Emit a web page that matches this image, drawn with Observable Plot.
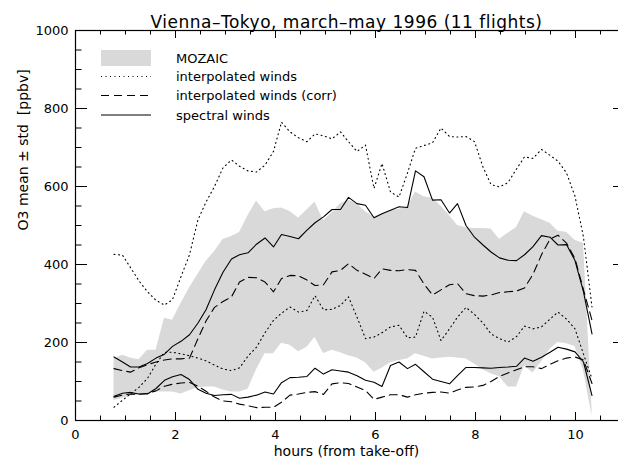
<!DOCTYPE html>
<html>
<head>
<meta charset="utf-8">
<script src="https://cdn.jsdelivr.net/npm/d3@7"></script>
<script src="https://cdn.jsdelivr.net/npm/@observablehq/plot@0.6"></script>
<style>
  html, body { margin: 0; padding: 0; background: white; overflow: hidden; }
</style>
</head>
<body>
<div id="chart"></div>
<script>
const title = "Vienna–Tokyo, march–may 1996 (11 flights)";
const xLabel = "hours (from take-off)";
const yLabel = "O3 mean ± std\u00a0\u00a0[ppbv]";
const legendLabels = ["MOZAIC", "interpolated winds", "interpolated winds (corr)", "spectral winds"];

const xTickLabels = [0, 2, 4, 6, 8, 10];
const xMinorTicks = [0.5,1,1.5,2.5,3,3.5,4.5,5,5.5,6.5,7,7.5,8.5,9,9.5,10.5];
const yTickLabels = [0, 200, 400, 600, 800, 1000];
const yMinorTicks = [50,100,150,250,300,350,450,500,550,650,700,750,850,900,950];

const hours = [0.77,0.94,1.10,1.27,1.44,1.61,1.78,1.94,2.11,2.28,2.45,2.61,2.78,2.95,3.12,3.28,3.45,3.62,3.79,3.96,4.12,4.29,4.46,4.63,4.79,4.96,5.13,5.30,5.46,5.63,5.80,5.97,6.13,6.30,6.47,6.64,6.80,6.97,7.14,7.31,7.48,7.64,7.81,7.98,8.15,8.31,8.48,8.65,8.82,8.98,9.15,9.32,9.49,9.65,9.82,9.99,10.16,10.33];

const mozaicLow = [51,57,62,66,70,73,73,73,68,76, 84,86,86,78,73,73,80,130,171,171, 198,193,176,188,213,172,180,174,166,160, 148,124,134,148,154,158,171,165,158,160, 162,160,158,145,130,120,112,86,86,140, 122,150,183,200,197,190,128,12];
const mozaicHigh = [158,167,160,156,180,180,262,257,300,340, 375,408,433,464,472,482,525,563,535,543, 545,536,519,540,560,512,533,556,565,556, 535,522,530,539,541,548,586,574,570,550, 525,500,494,492,492,491,465,480,495,535, 524,515,506,485,483,462,454,30];

const interpHigh = [426,424,392,358,330,308,296,310,369,425, 515,560,600,648,668,652,640,637,655,690, 765,740,725,715,735,730,722,740,715,690, 706,595,659,586,573,635,698,705,712,750, 728,727,728,715,650,605,599,610,645,676, 672,695,680,665,635,575,470,291];
const interpLow = [34,52,68,85,108,145,175,175,171,166, 160,153,142,132,128,135,165,188,225,257, 275,291,278,282,320,284,285,295,317,265, 210,214,225,240,244,212,214,280,265,205, 235,265,290,272,250,222,210,201,215,242, 235,240,260,278,260,235,170,107];

const corrHigh = [133,128,124,135,143,150,155,158,158,160, 210,255,290,305,317,355,367,366,355,330, 364,372,371,360,346,348,381,385,402,385, 375,364,389,385,384,387,385,350,322,335, 348,351,325,320,319,322,328,330,332,340, 375,425,465,475,455,415,335,257];
const corrLow = [60,65,68,67,70,76,88,93,96,98, 88,75,60,50,48,42,38,33,34,34, 47,65,68,72,74,67,94,97,95,86, 77,54,60,66,66,60,66,70,72,73, 70,78,85,86,90,100,113,122,130,138, 138,133,144,153,160,163,155,95];

const spectralHigh = [163,150,137,137,146,160,170,190,203,220, 250,284,335,380,414,425,430,452,468,445, 477,472,466,488,507,522,541,541,572,556, 552,520,530,539,548,546,640,625,565,566, 532,556,500,470,450,432,417,411,410,425, 446,474,470,450,451,410,330,222];
const spectralLow = [62,70,72,68,68,82,103,112,118,105, 80,70,64,66,67,57,60,65,73,68, 97,110,111,113,134,119,130,127,124,115, 103,98,87,141,150,133,144,125,106,100, 94,115,136,136,135,134,136,137,139,160, 152,162,175,188,183,176,150,64];

const rows = hours.map((h, i) => ({
  h,
  mLo: mozaicLow[i], mHi: mozaicHigh[i],
  iHi: interpHigh[i], iLo: interpLow[i],
  cHi: corrHigh[i], cLo: corrLow[i],
  sHi: spectralHigh[i], sLo: spectralLow[i]
}));

const W = 618, H = 464;
// the plot box runs to x = 11 h, just past the right edge of the picture
const mL = 75, mR = -7, mT = 30, mB = 44;
const fw = W - mL - mR, fh = H - mT - mB;

const DOT = "1,3.5";
const DASH = "8,5";
const LW = 1.1;

const lineOpts = (y, dash) => ({x: "h", y, stroke: "black", strokeWidth: LW, strokeDasharray: dash});

const chart = Plot.plot({
  width: W, height: H,
  marginLeft: mL, marginRight: mR, marginTop: mT, marginBottom: mB,
  style: "font-family: 'DejaVu Sans'; font-size: 13px; background: white; color: black; overflow: hidden;",
  x: {domain: [0, 11]},
  y: {domain: [0, 1000]},
  marks: [
    Plot.areaY(rows, {x: "h", y1: "mLo", y2: "mHi", fill: "#d9d9d9"}),
    Plot.line(rows, lineOpts("iHi", DOT)),
    Plot.line(rows, lineOpts("iLo", DOT)),
    Plot.line(rows, lineOpts("cHi", DASH)),
    Plot.line(rows, lineOpts("cLo", DASH)),
    Plot.line(rows, lineOpts("sHi", null)),
    Plot.line(rows, lineOpts("sLo", null)),
    Plot.frame({stroke: "black", strokeWidth: 1.2}),
    // inward ticks: bottom & top
    Plot.tickX(xTickLabels, {x: d => d, insetTop: fh - 8, stroke: "black"}),
    Plot.tickX(xMinorTicks, {x: d => d, insetTop: fh - 4.5, stroke: "black"}),
    Plot.tickX(xTickLabels, {x: d => d, insetBottom: fh - 8, stroke: "black"}),
    Plot.tickX(xMinorTicks, {x: d => d, insetBottom: fh - 4.5, stroke: "black"}),
    // inward ticks: left & right
    Plot.tickY(yTickLabels, {y: d => d, insetRight: fw - 12, stroke: "black"}),
    Plot.tickY(yMinorTicks, {y: d => d, insetRight: fw - 6.5, stroke: "black"}),
    Plot.tickY(yTickLabels, {y: d => d, insetLeft: fw - 12, stroke: "black"}),
    Plot.tickY(yMinorTicks, {y: d => d, insetLeft: fw - 6.5, stroke: "black"}),
    Plot.axisX({ticks: xTickLabels, tickSize: 0, tickPadding: 9, label: null, fontSize: 13, tickFormat: d => String(d)}),
    Plot.axisY({ticks: yTickLabels, tickSize: 0, tickPadding: 7, label: null, fontSize: 13, tickFormat: d => String(d)}),
    Plot.text([xLabel], {text: d => d, x: 5.42, frameAnchor: "bottom", dy: 35, fontSize: 14}),
    Plot.text([yLabel], {text: d => d, frameAnchor: "left", rotate: -90, dx: -52, dy: 5, fontSize: 14}),
    Plot.text([title], {text: d => d, x: 5.42, frameAnchor: "top", dy: -15, fontSize: 17})
  ]
});

// legend
const svg = d3.select(chart);
const lg = svg.append("g").attr("font-family", "DejaVu Sans").attr("font-size", 13).attr("text-anchor", "start");
const lx0 = 101, lx1 = 151, tx = 176;
const rowsY = [58, 76.5, 95.5, 115];
lg.append("rect").attr("x", lx0).attr("y", 50).attr("width", lx1 - lx0).attr("height", 16).attr("fill", "#d9d9d9");
const styles = [DOT, DASH, null];
styles.forEach((dash, i) => {
  const l = lg.append("line").attr("x1", lx0).attr("x2", lx1)
    .attr("y1", rowsY[i + 1]).attr("y2", rowsY[i + 1])
    .attr("stroke", "black").attr("stroke-width", LW);
  if (dash) l.attr("stroke-dasharray", dash);
});
legendLabels.forEach((t, i) => {
  lg.append("text").attr("x", tx).attr("y", rowsY[i]).attr("dy", "0.35em").attr("fill", "black").text(t);
});
svg.selectAll("text").filter(function() { return this.textContent === title; }).attr("letter-spacing", "0.5px");

document.getElementById("chart").appendChild(chart);
</script>
</body>
</html>
